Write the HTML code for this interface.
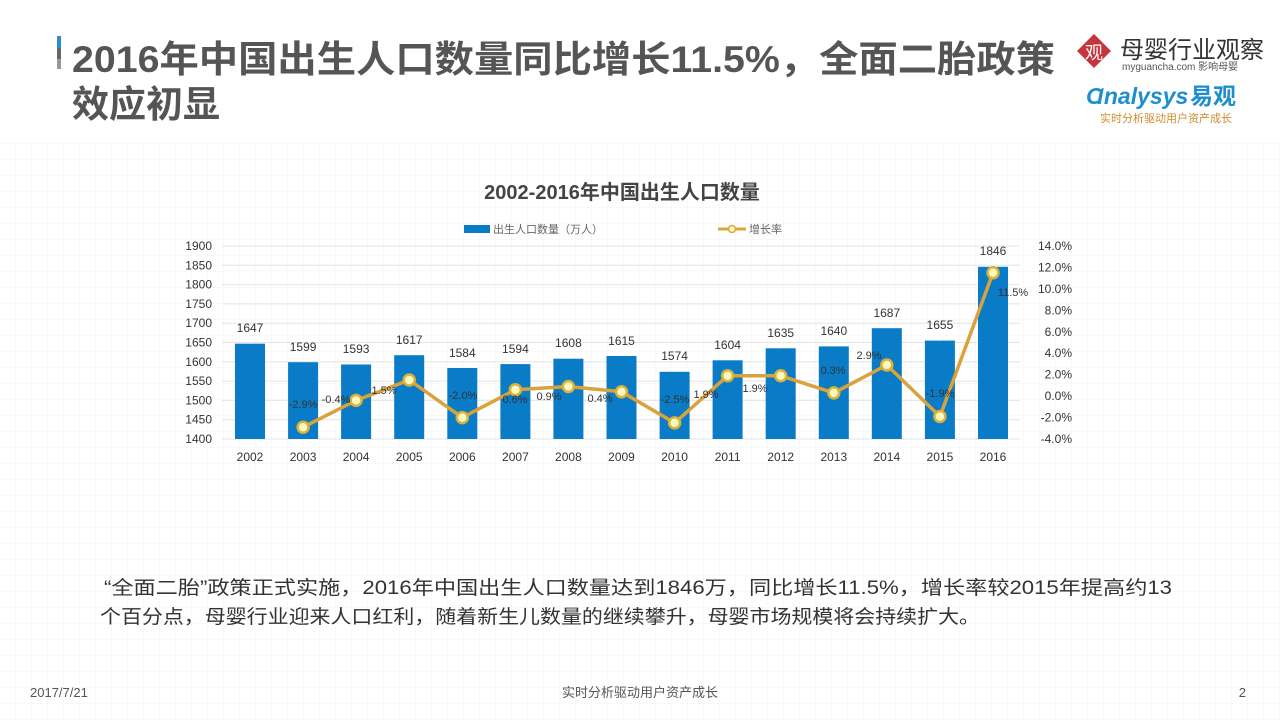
<!DOCTYPE html>
<html><head><meta charset="utf-8"><style>
html,body{margin:0;padding:0;width:1280px;height:720px;overflow:hidden;background:#fff;}
body{font-family:"Liberation Sans","Noto Sans CJK SC",sans-serif;}
</style></head><body>
<svg width="1280" height="720" viewBox="0 0 1280 720" xmlns="http://www.w3.org/2000/svg" style="position:absolute;left:0;top:0">
<defs>
<pattern id="g" width="16" height="16" patternUnits="userSpaceOnUse">
<path d="M16 0V16M0 16H16" stroke="#eef0f3" stroke-width="1" fill="none"/>
</pattern>
</defs>
<rect width="1280" height="720" fill="#fff"/>
<rect x="0" y="140" width="1280" height="580" fill="url(#g)" opacity="0.8"/>
<!-- title -->
<rect x="57" y="36" width="4" height="12" fill="#2a8dd0"/>
<rect x="57" y="48" width="4" height="11" fill="#666"/>
<rect x="57" y="59" width="4" height="10" fill="#999"/>
<g font-family="Liberation Sans,Noto Sans CJK SC,sans-serif" font-weight="bold" fill="#555" font-size="37">
<text x="72" y="72" textLength="983" lengthAdjust="spacingAndGlyphs">2016年中国出生人口数量同比增长11.5%，全面二胎政策</text>
<text x="72" y="117" textLength="148" lengthAdjust="spacingAndGlyphs">效应初显</text>
</g>
<!-- logo -->
<g>
<rect x="1082" y="39" width="24" height="24" fill="#c8343c" transform="rotate(45 1094 51)"/>
<text x="1094" y="59" font-size="18" fill="#fff" text-anchor="middle" font-family="Noto Sans CJK SC,sans-serif">观</text>
<text x="1120" y="58" font-size="24" fill="#333" font-family="Noto Sans CJK SC,sans-serif">母婴行业观察</text>
<text x="1122" y="70" font-size="10" fill="#555">myguancha.com 影响母婴</text>
<text x="1086" y="104" font-size="23" fill="#1d8fcf" font-style="italic" font-weight="bold">Ɑnalysys</text>
<text x="1190" y="104" font-size="23" fill="#1d8fcf" font-weight="bold" font-family="Noto Sans CJK SC,sans-serif">易观</text>
<text x="1100" y="122" font-size="11" fill="#d08b2a" font-family="Noto Sans CJK SC,sans-serif">实时分析驱动用户资产成长</text>
</g>
<!-- chart title -->
<text x="622" y="199" font-size="20" font-weight="bold" fill="#444" text-anchor="middle" font-family="Liberation Sans,Noto Sans CJK SC,sans-serif">2002-2016年中国出生人口数量</text>
<rect x="464" y="225" width="26" height="8" fill="#0a7bc6"/>
<text x="493" y="233" font-size="11" fill="#666" font-family="Noto Sans CJK SC,sans-serif">出生人口数量（万人）</text>
<line x1="718" y1="229" x2="746" y2="229" stroke="#dba63a" stroke-width="3"/>
<circle cx="732" cy="229" r="3.5" fill="#fff7c0" stroke="#dba63a" stroke-width="1.5"/>
<text x="749" y="233" font-size="11" fill="#666" font-family="Noto Sans CJK SC,sans-serif">增长率</text>
<!-- gridlines -->
<g stroke="#e4e4e4" stroke-width="1">
<line x1="222" y1="246.0" x2="1020" y2="246.0"/><line x1="222" y1="265.3" x2="1020" y2="265.3"/>
<line x1="222" y1="284.6" x2="1020" y2="284.6"/><line x1="222" y1="303.9" x2="1020" y2="303.9"/>
<line x1="222" y1="323.2" x2="1020" y2="323.2"/><line x1="222" y1="342.5" x2="1020" y2="342.5"/>
<line x1="222" y1="361.8" x2="1020" y2="361.8"/><line x1="222" y1="381.1" x2="1020" y2="381.1"/>
<line x1="222" y1="400.4" x2="1020" y2="400.4"/><line x1="222" y1="419.7" x2="1020" y2="419.7"/>
<line x1="222" y1="439" x2="1020" y2="439"/>
</g>
<g font-size="12" fill="#333" text-anchor="end">
<text x="212" y="250">1900</text><text x="212" y="269.3">1850</text><text x="212" y="288.6">1800</text>
<text x="212" y="307.9">1750</text><text x="212" y="327.2">1700</text><text x="212" y="346.5">1650</text>
<text x="212" y="365.8">1600</text><text x="212" y="385.1">1550</text><text x="212" y="404.4">1500</text>
<text x="212" y="423.7">1450</text><text x="212" y="443">1400</text>
</g>
<g font-size="12" fill="#333" text-anchor="end">
<text x="1072" y="250">14.0%</text><text x="1072" y="271.4">12.0%</text><text x="1072" y="292.9">10.0%</text>
<text x="1072" y="314.3">8.0%</text><text x="1072" y="335.8">6.0%</text><text x="1072" y="357.2">4.0%</text>
<text x="1072" y="378.7">2.0%</text><text x="1072" y="400.1">0.0%</text><text x="1072" y="421.6">-2.0%</text>
<text x="1072" y="443">-4.0%</text>
</g>
<!-- bars -->
<g fill="#0a7bc6">
<rect x="235" y="343.7" width="30" height="95.3"/>
<rect x="288.1" y="362.2" width="30" height="76.8"/>
<rect x="341.1" y="364.5" width="30" height="74.5"/>
<rect x="394.2" y="355.2" width="30" height="83.8"/>
<rect x="447.3" y="368" width="30" height="71"/>
<rect x="500.4" y="364.1" width="30" height="74.9"/>
<rect x="553.4" y="358.7" width="30" height="80.3"/>
<rect x="606.5" y="356" width="30" height="83"/>
<rect x="659.6" y="371.8" width="30" height="67.2"/>
<rect x="712.6" y="360.3" width="30" height="78.7"/>
<rect x="765.7" y="348.3" width="30" height="90.7"/>
<rect x="818.8" y="346.4" width="30" height="92.6"/>
<rect x="871.8" y="328.2" width="30" height="110.8"/>
<rect x="924.9" y="340.6" width="30" height="98.4"/>
<rect x="978" y="266.8" width="30" height="172.2"/>
</g>
<g font-size="12" fill="#333" text-anchor="middle">
<text x="250" y="332">1647</text><text x="303.1" y="351">1599</text><text x="356.1" y="353">1593</text>
<text x="409.2" y="344">1617</text><text x="462.3" y="357">1584</text><text x="515.4" y="353">1594</text>
<text x="568.4" y="347">1608</text><text x="621.5" y="345">1615</text><text x="674.6" y="360">1574</text>
<text x="727.6" y="349">1604</text><text x="780.7" y="337">1635</text><text x="833.8" y="335">1640</text>
<text x="886.8" y="317">1687</text><text x="939.9" y="329">1655</text><text x="993" y="255">1846</text>
</g>
<!-- line -->
<polyline fill="none" stroke="#d9a23a" stroke-width="3.5" stroke-linejoin="round"
points="303.1,427.2 356.1,400.4 409.2,380 462.3,417.6 515.4,389.7 568.4,386.5 621.5,391.8 674.6,422.9 727.6,375.8 780.7,375.8 833.8,392.9 886.8,365 939.9,416.5 993,272.8"/>
<g fill="#fff7c0" stroke="#d9b23a" stroke-width="2.5">
<circle cx="303.1" cy="427.2" r="5.5"/><circle cx="356.1" cy="400.4" r="5.5"/><circle cx="409.2" cy="380" r="5.5"/>
<circle cx="462.3" cy="417.6" r="5.5"/><circle cx="515.4" cy="389.7" r="5.5"/><circle cx="568.4" cy="386.5" r="5.5"/>
<circle cx="621.5" cy="391.8" r="5.5"/><circle cx="674.6" cy="422.9" r="5.5"/><circle cx="727.6" cy="375.8" r="5.5"/>
<circle cx="780.7" cy="375.8" r="5.5"/><circle cx="833.8" cy="392.9" r="5.5"/><circle cx="886.8" cy="365" r="5.5"/>
<circle cx="939.9" cy="416.5" r="5.5"/><circle cx="993" cy="272.8" r="5.5"/>
</g>
<g font-size="11" fill="#333" text-anchor="middle">
<text x="303" y="408">-2.9%</text><text x="336" y="403">-0.4%</text><text x="384" y="394">1.5%</text>
<text x="463" y="399">-2.0%</text><text x="515" y="403">0.6%</text><text x="549" y="400">0.9%</text>
<text x="600" y="402">0.4%</text><text x="675" y="403">-2.5%</text><text x="706" y="398">1.9%</text>
<text x="755" y="392">1.9%</text><text x="833" y="374">0.3%</text><text x="869" y="359">2.9%</text>
<text x="940" y="397">-1.9%</text><text x="1013" y="296">11.5%</text>
</g>
<g font-size="12" fill="#333" text-anchor="middle">
<text x="250" y="461">2002</text><text x="303.1" y="461">2003</text><text x="356.1" y="461">2004</text>
<text x="409.2" y="461">2005</text><text x="462.3" y="461">2006</text><text x="515.4" y="461">2007</text>
<text x="568.4" y="461">2008</text><text x="621.5" y="461">2009</text><text x="674.6" y="461">2010</text>
<text x="727.6" y="461">2011</text><text x="780.7" y="461">2012</text><text x="833.8" y="461">2013</text>
<text x="886.8" y="461">2014</text><text x="939.9" y="461">2015</text><text x="993" y="461">2016</text>
</g>
<!-- body text -->
<g font-size="19" fill="#333" font-family="Liberation Sans,Noto Sans CJK SC,sans-serif">
<text x="104" y="594" textLength="1068" lengthAdjust="spacingAndGlyphs">“全面二胎”政策正式实施，2016年中国出生人口数量达到1846万，同比增长11.5%，增长率较2015年提高约13</text>
<text x="100" y="623" textLength="880" lengthAdjust="spacingAndGlyphs">个百分点，母婴行业迎来人口红利，随着新生儿数量的继续攀升，母婴市场规模将会持续扩大。</text>
</g>
<g font-size="13" fill="#555" font-family="Liberation Sans,Noto Sans CJK SC,sans-serif">
<text x="30" y="697">2017/7/21</text>
<text x="640" y="697" text-anchor="middle">实时分析驱动用户资产成长</text>
<text x="1246" y="697" text-anchor="end">2</text>
</g>
</svg>
</body></html>
